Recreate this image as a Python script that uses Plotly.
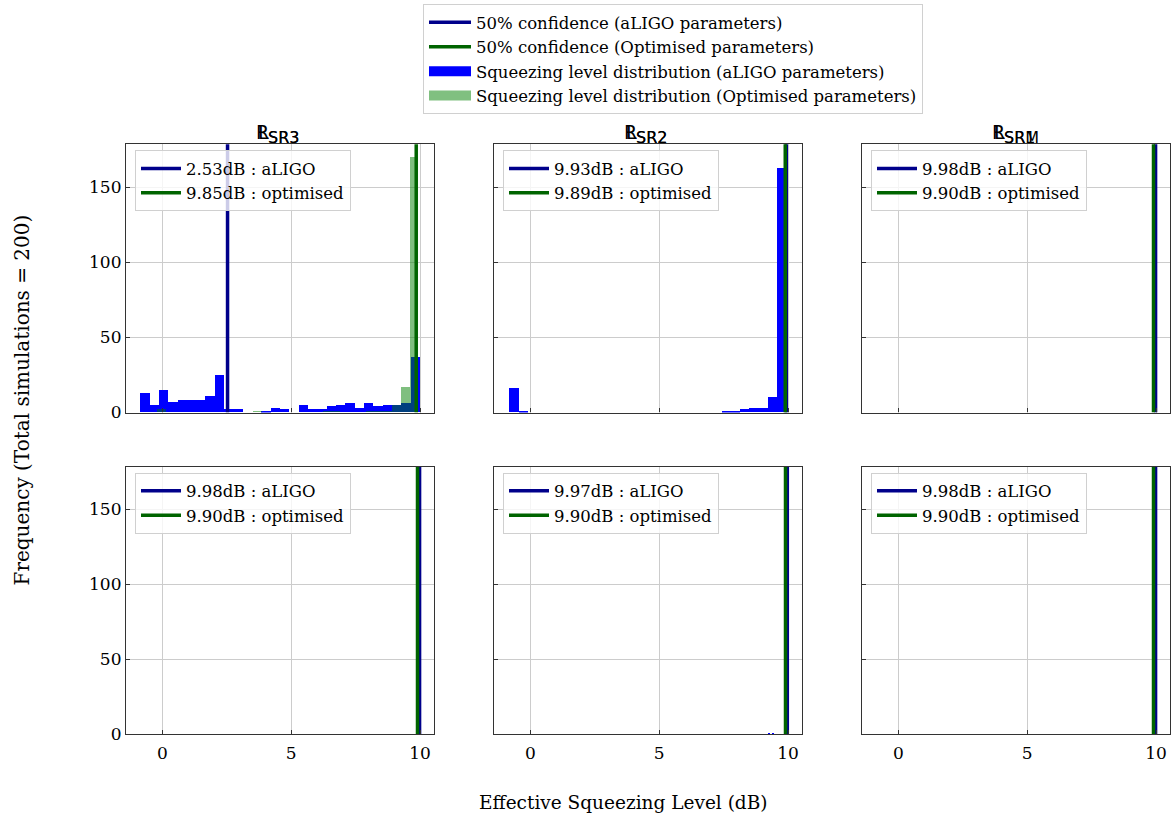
import plotly.graph_objects as go

REF_W, REF_H = 1171, 819
# the page is photographed slightly squeezed vertically (~819/830)
W, H = 1171, 830

# ---------------- data ----------------
panel_main = ["R", "R", "R", "L", "L", "L"]
panel_sub = ["SR3", "SR2", "SRM", "SR3", "SR2", "SR1"]

aligo_median = [2.53, 9.93, 9.98, 9.98, 9.97, 9.98]
opt_median = [9.85, 9.89, 9.90, 9.90, 9.90, 9.90]

# histogram bins: (first edge, bin width) and counts per bin
blue_bins = [(-0.86, 0.362), (-0.81, 0.358), (9.95, 0.015),
             (9.93, 0.06), (9.25, 0.05), (9.95, 0.015)]
green_bins = [(-0.20, 0.3377), (9.84, 0.02), (9.87, 0.015),
              (9.87, 0.015), (9.87, 0.015), (9.87, 0.015)]

blue_rsr3 = [13, 5, 15, 7, 8, 8, 8, 11, 25, 2, 2, 0, 0, 1, 3, 2, 0, 5, 2, 2,
             4, 5, 6, 3, 6, 4, 5, 5, 6, 37]
green_rsr3 = [2, 0, 0, 0, 0, 0, 0, 0, 0, 0, 0, 1, 0, 0, 0, 0, 0, 0, 0, 1,
              1, 0, 0, 0, 1, 1, 1, 5, 17, 170]
blue_rsr2 = [16, 1, 0, 0, 0, 0, 0, 0, 0, 0, 0, 0, 0, 0, 0, 0, 0, 0, 0, 0,
             0, 0, 0, 1, 1, 2, 3, 3, 10, 163]
green_rsr2 = [20, 60, 120]
blue_rsrm = [10, 40, 150]
green_rsrm = [30, 60, 110]
blue_lsr3 = [5, 195]
green_lsr3 = [30, 60, 110]
blue_lsr2 = [1, 0, 0, 1, 0, 0, 0, 0, 0, 0, 0, 0, 0, 0, 198]
green_lsr2 = [30, 60, 110]
blue_lsr1 = [10, 40, 150]
green_lsr1 = [30, 60, 110]

blue_counts = [blue_rsr3, blue_rsr2, blue_rsrm, blue_lsr3, blue_lsr2, blue_lsr1]
green_counts = [green_rsr3, green_rsr2, green_rsrm, green_lsr3, green_lsr2, green_lsr1]

x_ticks = [0, 5, 10]
y_ticks = [0, 50, 100, 150]
x_range = [-1.41, 10.54]
y_range = [0, 178.7]

# ---------------- style ----------------
SERIF = "DejaVu Serif"
SANS = "DejaVu Sans"
BLUE_LINE = "#00008b"
GREEN_LINE = "#006400"
BLUE_BAR = "#0000ff"
GREEN_BAR = "rgba(0,128,0,0.5)"
LEG_SIZE = 16.5

col_px = [(126, 434), (494, 802), (862, 1170)]
row_px = [(144, 412), (466, 733)]


def px_x(p):
    return p / REF_W


def px_y(p):
    return 1 - p / REF_H


fig = go.Figure()

for i in range(6):
    r, c = divmod(i, 3)
    n = "" if i == 0 else str(i + 1)
    xa, ya = "x" + n, "y" + n
    leg = "legend" + str(i + 2)

    s, w = blue_bins[i]
    cnt = blue_counts[i]
    fig.add_trace(go.Bar(x=[s + w * (k + 0.5) for k in range(len(cnt))], y=cnt,
                         width=w, marker=dict(color=BLUE_BAR, line=dict(width=0)),
                         xaxis=xa, yaxis=ya, showlegend=False, hoverinfo="skip"))
    s, w = green_bins[i]
    cnt = green_counts[i]
    fig.add_trace(go.Bar(x=[s + w * (k + 0.5) for k in range(len(cnt))], y=cnt,
                         width=w, marker=dict(color=GREEN_BAR, line=dict(width=0)),
                         xaxis=xa, yaxis=ya, showlegend=False, hoverinfo="skip"))
    fig.add_trace(go.Scatter(x=[aligo_median[i]] * 2, y=[0, 250], mode="lines",
                             line=dict(color=BLUE_LINE, width=3.5),
                             name=f"{aligo_median[i]:.2f}dB : aLIGO",
                             xaxis=xa, yaxis=ya, legend=leg, showlegend=True))
    fig.add_trace(go.Scatter(x=[opt_median[i]] * 2, y=[0, 250], mode="lines",
                             line=dict(color=GREEN_LINE, width=3.5),
                             name=f"{opt_median[i]:.2f}dB : optimised",
                             xaxis=xa, yaxis=ya, legend=leg, showlegend=True))

main_entries = [("50% confidence (aLIGO parameters)", BLUE_LINE, 3.5),
                ("50% confidence (Optimised parameters)", GREEN_LINE, 3.5),
                ("Squeezing level distribution (aLIGO parameters)", BLUE_BAR, 13),
                ("Squeezing level distribution (Optimised parameters)", "#80c080", 13)]
for name, col, lw in main_entries:
    fig.add_trace(go.Scatter(x=[None], y=[None], mode="lines",
                             line=dict(color=col, width=lw), name=name,
                             legend="legend", showlegend=True))

layout = dict(
    width=W, height=H, autosize=False,
    margin=dict(l=0, r=0, t=0, b=0),
    paper_bgcolor="white", plot_bgcolor="white",
    barmode="overlay", bargap=0,
    font=dict(family=SERIF, size=17, color="black"),
    legend=dict(x=px_x(423), y=px_y(4), xanchor="left", yanchor="top",
                bgcolor="white", bordercolor="#d0d0d0", borderwidth=1,
                font=dict(family=SERIF, size=LEG_SIZE, color="black"),
                tracegroupgap=0, itemwidth=42),
)

annotations = []
for i in range(6):
    r, c = divmod(i, 3)
    n = "" if i == 0 else str(i + 1)
    x0, x1 = col_px[c]
    y0, y1 = row_px[r]
    layout["xaxis" + n] = dict(
        domain=[px_x(x0), px_x(x1)], range=x_range, anchor="y" + n,
        tickvals=x_ticks, showticklabels=(r == 1), ticks="inside", ticklen=4,
        tickcolor="#333", showgrid=True, gridcolor="#cccccc", gridwidth=1,
        showline=True, mirror=True, linecolor="#333", linewidth=1.2,
        zeroline=False, tickfont=dict(family=SERIF, size=17, color="black"),
        ticklabelstandoff=4, fixedrange=True)
    layout["yaxis" + n] = dict(
        domain=[px_y(y1), px_y(y0)], range=y_range, anchor="x" + n,
        tickvals=y_ticks, showticklabels=(c == 0), ticks="inside", ticklen=4,
        tickcolor="#333", showgrid=True, gridcolor="#cccccc", gridwidth=1,
        showline=True, mirror=True, linecolor="#333", linewidth=1.2,
        zeroline=False, tickfont=dict(family=SERIF, size=17, color="black"),
        fixedrange=True)
    layout["legend" + str(i + 2)] = dict(
        x=px_x(x0 + 9), y=px_y(y0 + 6), xanchor="left", yanchor="top",
        bgcolor="rgba(255,255,255,0.8)", bordercolor="#d0d0d0", borderwidth=1,
        font=dict(family=SERIF, size=LEG_SIZE, color="black"),
        tracegroupgap=0, itemwidth=40)
    cx = (x0 + x1) / 2
    annotations.append(dict(
        text=panel_main[i], x=px_x(cx - 10.5), y=px_y(131.5),
        xref="paper", yref="paper", xanchor="right", yanchor="middle",
        showarrow=False, borderpad=0, font=dict(family=SANS, size=19, color="black")))
    annotations.append(dict(
        text=panel_sub[i], x=px_x(cx - 13), y=px_y(137),
        xref="paper", yref="paper", xanchor="left", yanchor="middle",
        showarrow=False, borderpad=0, font=dict(family=SANS, size=16, color="black")))

annotations.append(dict(
    text="Effective Squeezing Level (dB)", x=px_x(623), y=px_y(802),
    xref="paper", yref="paper", xanchor="center", yanchor="middle",
    showarrow=False, font=dict(family=SERIF, size=18.5, color="black")))
annotations.append(dict(
    text="Frequency (Total simulations = 200)", x=px_x(22), y=px_y(400),
    xref="paper", yref="paper", xanchor="center", yanchor="middle",
    textangle=-90, showarrow=False, font=dict(family=SERIF, size=20, color="black")))
layout["annotations"] = annotations

fig.update_layout(**layout)
fig.write_html(
    "out.html",
    config={"displayModeBar": False},
    post_script="document.body.style.margin='0px';document.body.style.overflow='hidden';",
)
